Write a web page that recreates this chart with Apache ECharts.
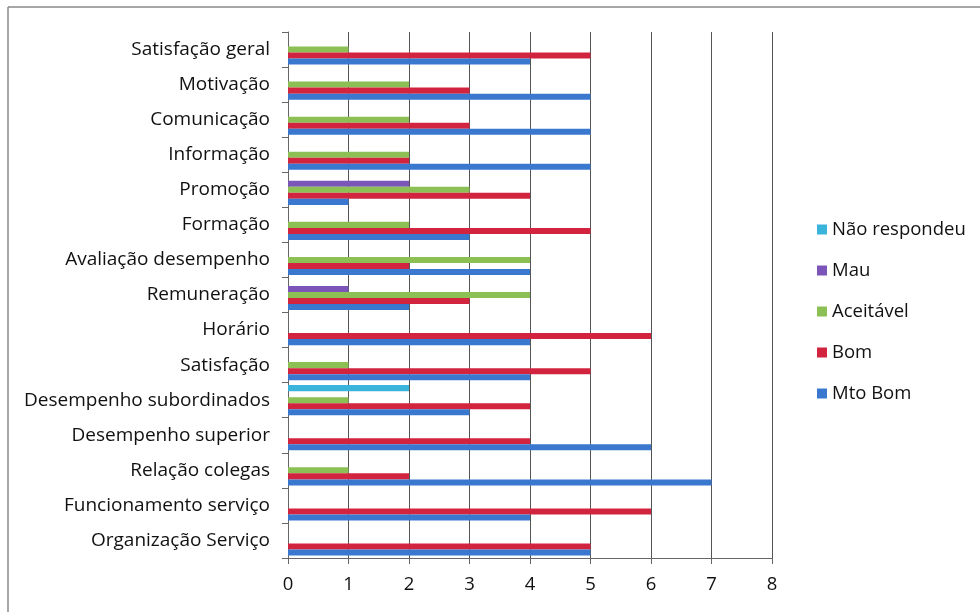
<!DOCTYPE html>
<html><head><meta charset="utf-8">
<script src="https://cdn.jsdelivr.net/npm/echarts@6/dist/echarts.min.js"></script>
<style>html,body{margin:0;padding:0;background:#fff}#c{width:980px;height:612px}</style>
</head><body><div id="c"></div>
<script>
const categories = ["Organização Serviço","Funcionamento serviço","Relação colegas","Desempenho superior","Desempenho subordinados","Satisfação","Horário","Remuneração","Avaliação desempenho","Formação","Promoção","Informação","Comunicação","Motivação","Satisfação geral"];
const mtoBom   = [5,4,7,6,3,4,4,2,4,3,1,5,5,5,4];
const bom      = [5,6,2,4,4,5,6,3,2,5,4,2,3,3,5];
const aceitavel= [0,0,1,0,1,1,0,4,4,2,3,2,2,2,1];
const mau      = [0,0,0,0,0,0,0,1,0,0,2,0,0,0,0];
const naoResp  = [0,0,0,0,2,0,0,0,0,0,0,0,0,0,0];
const xTicks = [0,1,2,3,4,5,6,7,8];

const FONT = 'Open Sans';
const chart = echarts.init(document.getElementById('c'));
function s(name, data, color){
  return {name, type:'bar', data, itemStyle:{color}, barGap:'0%', barCategoryGap:'14%'};
}
chart.setOption({
  animation:false,
  textStyle:{fontFamily:FONT},
  grid:{left:288, right:208, top:32, bottom:54},
  legend:{
    orient:'vertical', left:812, top:214, itemWidth:10, itemHeight:10, itemGap:20,
    icon:'rect',
    data:['Não respondeu','Mau','Aceitável','Bom','Mto Bom'],
    textStyle:{fontFamily:FONT, fontSize:18.5, color:'#111', lineHeight:21}
  },
  xAxis:{type:'value', min:xTicks[0], max:xTicks[xTicks.length-1], interval:1,
    axisLine:{show:true, lineStyle:{color:'#666', width:1}},
    axisTick:{show:true, length:6, lineStyle:{color:'#666'}},
    axisLabel:{fontFamily:FONT, fontSize:18.5, color:'#111', margin:17},
    splitLine:{show:true, lineStyle:{color:'#555', width:1}}
  },
  yAxis:{type:'category', data:categories,
    axisLine:{show:true, lineStyle:{color:'#666', width:1}},
    axisTick:{show:true, length:6, lineStyle:{color:'#666'}},
    axisLabel:{fontFamily:FONT, fontSize:19, color:'#111', margin:18},
  },
  graphic:[
    {type:'line', shape:{x1:8,y1:7,x2:980,y2:7}, style:{stroke:'#888', lineWidth:1.5}},
    {type:'line', shape:{x1:8,y1:7,x2:8,y2:612}, style:{stroke:'#888', lineWidth:1.5}}
  ],
  series:[
    s('Não respondeu', naoResp, '#3bb4dc'),
    s('Mau', mau, '#7b56b8'),
    s('Aceitável', aceitavel, '#8cc054'),
    s('Bom', bom, '#d3243f'),
    s('Mto Bom', mtoBom, '#3a78d0')
  ]
});
</script></body></html>
